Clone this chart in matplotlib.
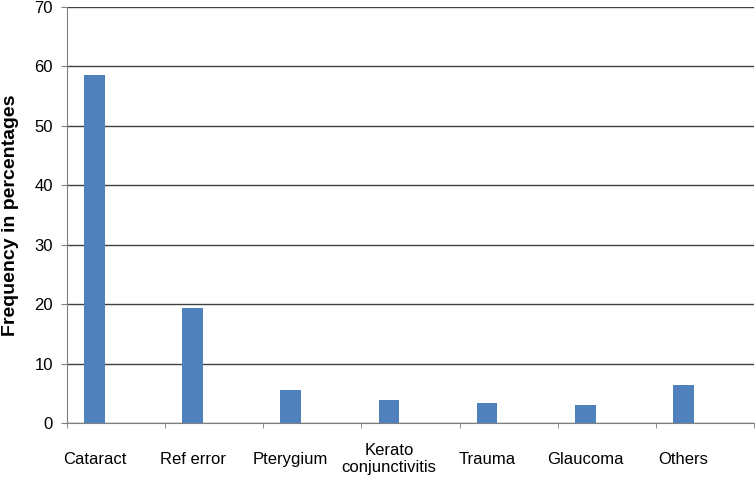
import matplotlib
matplotlib.use("Agg")
import matplotlib.pyplot as plt
import numpy as np

categories = ["Cataract", "Ref error", "Pterygium", "Kerato\nconjunctivitis",
              "Trauma", "Glaucoma", "Others"]
values = [58.5, 19.4, 5.5, 3.9, 3.3, 3.0, 6.4]
yticks = [0, 10, 20, 30, 40, 50, 60, 70]

plt.rcParams['font.family'] = ['Liberation Sans', 'DejaVu Sans']

fig = plt.figure(figsize=(7.55, 4.78), dpi=100)
ax = fig.add_axes([0.0887, 0.1151, 0.91, 0.8703])

x = np.arange(len(categories))
offset = -0.22
ax.bar(x + offset, values, width=0.21, color='#4F81BD', zorder=3)

ax.set_xlim(-0.5, len(categories) - 0.5)
ax.set_ylim(0, 70)
ax.set_yticks(yticks)
ax.yaxis.grid(True, color='#404040', linewidth=1.0, zorder=1)
ax.set_axisbelow(True)

ax.set_xticks(x + offset)
ax.set_xticklabels(categories, fontsize=12)
ax.set_xticks(np.arange(len(categories) + 1) - 0.5, minor=True)
ax.tick_params(axis='x', which='major', length=0, pad=26)
ax.tick_params(axis='x', which='minor', length=3.5, color='#808080', direction='out')
for lbl in ax.get_xticklabels():
    lbl.set_va('center')
    lbl.set_linespacing(1.15)

ax.tick_params(axis='y', length=4, color='#808080', labelsize=12, pad=6)

for s in ['top', 'right']:
    ax.spines[s].set_visible(False)
ax.spines['left'].set_color('#808080')
ax.spines['bottom'].set_color('#808080')

ax.set_ylabel("Frequency in percentages", fontsize=14, fontweight='bold', labelpad=11)

fig.savefig("out.png", dpi=100)
